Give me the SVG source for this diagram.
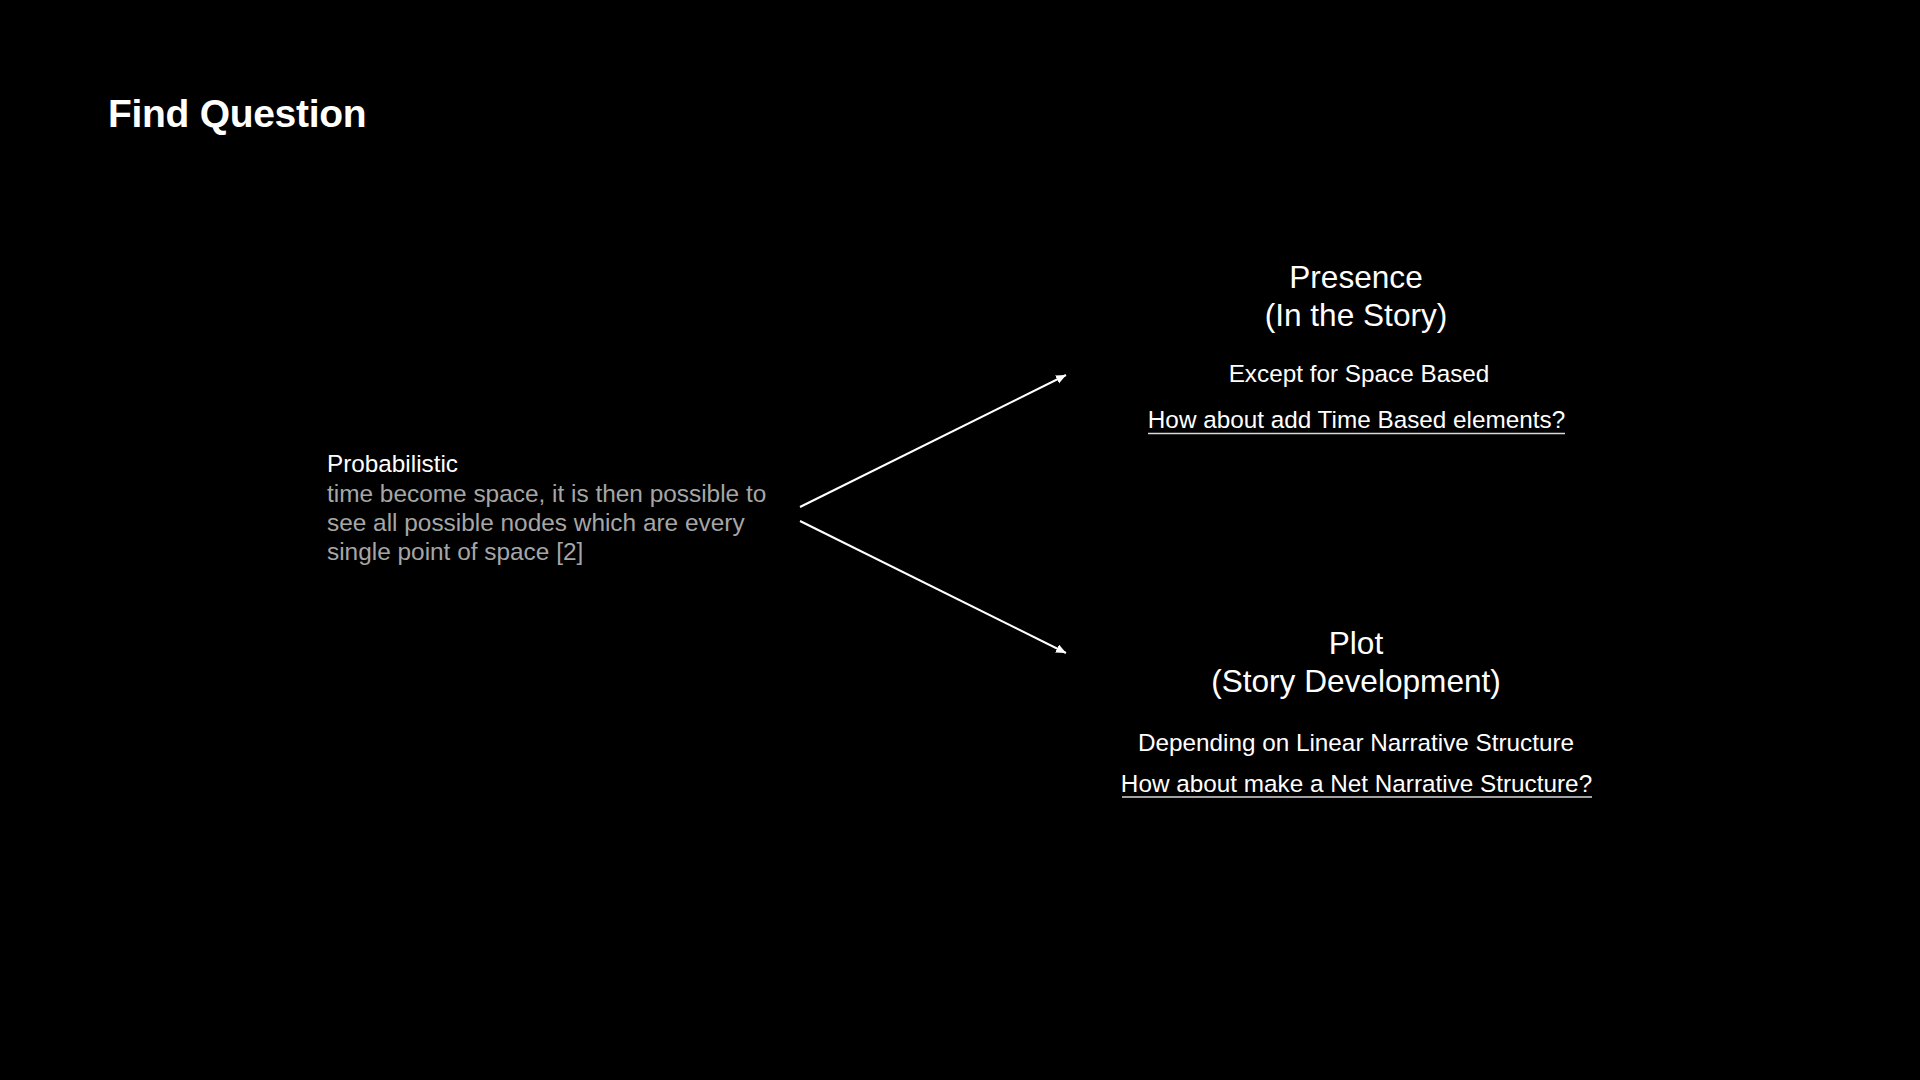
<svg xmlns="http://www.w3.org/2000/svg" width="1920" height="1080" viewBox="0 0 1920 1080">
  <defs>
    <style>
      text { font-family: "Liberation Sans", Arial, Helvetica, sans-serif; }
      .title { font-size: 39px; font-weight: bold; fill: #ffffff; letter-spacing: -0.3px; }
      .head { font-size: 24.3px; fill: #ffffff; }
      .body { font-size: 24.4px; fill: #a6a6a6; }
      .big { font-size: 31.6px; fill: #ffffff; text-anchor: middle; }
      .sub { font-size: 24.3px; fill: #ffffff; text-anchor: middle; }
      .ul { stroke: #d9d9d9; stroke-width: 1.5; }
      .conn { stroke: #ffffff; stroke-width: 2; fill: none; marker-end: url(#arrow); }
    </style>
    <marker id="arrow" markerUnits="userSpaceOnUse" markerWidth="12" markerHeight="10" refX="10" refY="4.5" orient="auto">
      <path d="M0,0 L10,4.5 L0,9 Z" fill="#ffffff"/>
    </marker>
  </defs>
  <rect x="0" y="0" width="1920" height="1080" fill="#000000"/>

  <g id="title">
    <text class="title" x="108" y="127">Find Question</text>
  </g>

  <g id="probabilistic">
    <text class="head" x="327" y="472">Probabilistic</text>
    <text class="body" x="327" y="501.5">time become space, it is then possible to</text>
    <text class="body" x="327" y="530.5">see all possible nodes which are every</text>
    <text class="body" x="327" y="560">single point of space [2]</text>
  </g>

  <g id="presence">
    <text class="big" x="1356" y="288">Presence</text>
    <text class="big" x="1356" y="325.5">(In the Story)</text>
    <text class="sub" x="1359" y="382">Except for Space Based</text>
    <text class="sub" x="1356.5" y="428">How about add Time Based elements?</text>
    <line class="ul" x1="1148" y1="433.5" x2="1565" y2="433.5"/>
  </g>

  <g id="plot">
    <text class="big" x="1356" y="654">Plot</text>
    <text class="big" x="1356" y="691.5">(Story Development)</text>
    <text class="sub" x="1356" y="751">Depending on Linear Narrative Structure</text>
    <text class="sub" x="1356.5" y="791.5">How about make a Net Narrative Structure?</text>
    <line class="ul" x1="1122" y1="797" x2="1592" y2="797"/>
  </g>

  <g id="connectors">
    <line class="conn" x1="800" y1="507" x2="1066" y2="375"/>
    <line class="conn" x1="800" y1="521" x2="1066" y2="653"/>
  </g>
</svg>
